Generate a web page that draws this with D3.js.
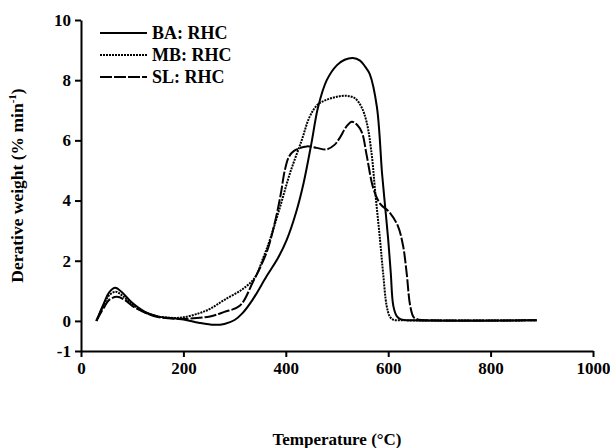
<!DOCTYPE html>
<html>
<head>
<meta charset="utf-8">
<script src="https://cdn.jsdelivr.net/npm/d3@7"></script>
<style>
  html,body{margin:0;padding:0;background:#fff;}
</style>
</head>
<body>
<div id="chart"></div>
<script>
const baT=[30,45,55,67,80,100,125,150,200,230,260,280,300,315,335,363,385,402,420,435,450,463,480,500,515,531,545,555,564,578,588,594,600,605,610,617,625,650,890];
const baV=[0,0.6,0.95,1.1,0.95,0.6,0.3,0.15,0.05,-0.06,-0.13,-0.1,0.03,0.25,0.7,1.5,2.1,2.7,3.6,4.6,5.9,7.1,8.0,8.5,8.68,8.74,8.65,8.45,8.2,7.1,4.9,3.8,2.7,1.6,0.5,0.15,0.05,0.02,0.02];

const mbT=[30,45,55,68,80,100,125,150,180,200,230,252,280,316,340,356,369,389,408,431,447,463,480,500,519,535,548,558,568,574,584,590,597,603,610,630,890];
const mbV=[0,0.55,0.85,0.97,0.85,0.55,0.28,0.15,0.1,0.12,0.25,0.4,0.7,1.06,1.45,2.1,2.7,3.8,4.9,6.0,6.8,7.2,7.35,7.45,7.48,7.4,7.1,6.6,5.5,4.4,2.7,1.6,0.5,0.15,0.04,0.02,0.02];

const slT=[30,45,55,70,85,100,125,150,200,252,280,310,336,363,379,390,398,406,416,441,460,480,495,506,518,529,540,549,558,571,584,603,619,629,636,643,650,660,680,890];
const slV=[0,0.45,0.7,0.8,0.7,0.5,0.28,0.13,0.07,0.15,0.3,0.5,1.3,2.3,3.3,4.2,5.0,5.45,5.65,5.8,5.75,5.7,5.85,6.1,6.45,6.62,6.5,6.25,5.5,4.4,3.9,3.6,3.15,2.5,1.6,0.5,0.12,0.04,0.02,0.02];

const seriesNames=["BA: RHC","MB: RHC","SL: RHC"];
const xTicks=[0,200,400,600,800,1000];
const yTicks=[-1,0,2,4,6,8,10];

const W=610,H=448;
const m={top:20,right:17,bottom:97,left:81};
const font="'Liberation Serif','Times New Roman',serif";
const svg=d3.select("#chart").append("svg").attr("width",W).attr("height",H)
  .attr("font-family",font).attr("font-weight","bold");
const x=d3.scaleLinear().domain([0,1000]).range([m.left,W-m.right]);
const y=d3.scaleLinear().domain([-1,10]).range([H-m.bottom,m.top]);

const series=[
  {name:seriesNames[0],t:baT,v:baV,dash:null},
  {name:seriesNames[1],t:mbT,v:mbV,dash:"2 1"},
  {name:seriesNames[2],t:slT,v:slV,dash:"12 2"}
];

const line=d3.line().x(d=>x(d[0])).y(d=>y(d[1])).curve(d3.curveCatmullRom.alpha(0.5));
series.forEach(s=>{
  svg.append("path").datum(s.t.map((t,i)=>[t,s.v[i]]))
    .attr("d",line).attr("fill","none").attr("stroke","#000")
    .attr("stroke-width",2).attr("stroke-dasharray",s.dash);
});

const fmt=d=>String(d);

svg.append("g").attr("transform",`translate(0,${y(-1)})`)
  .call(d3.axisBottom(x).tickValues(xTicks).tickFormat(fmt).tickSize(6).tickSizeOuter(0).tickPadding(5))
  .attr("font-family",font).attr("font-size",17)
  .call(s=>s.select(".domain").attr("stroke-width",2))
  .call(s=>s.selectAll("line").attr("stroke-width",2));

svg.append("g").attr("transform",`translate(${x(0)},0)`)
  .call(d3.axisLeft(y).tickValues(yTicks).tickFormat(fmt).tickSize(6).tickSizeOuter(0).tickPadding(4))
  .attr("font-family",font).attr("font-size",17)
  .call(s=>s.select(".domain").attr("stroke-width",2))
  .call(s=>s.selectAll("line").attr("stroke-width",2));

// axis titles
svg.append("text").attr("x",(x(0)+x(1000))/2).attr("y",445)
  .attr("text-anchor","middle").attr("font-size",17).text("Temperature (°C)");

const yt=svg.append("text").attr("transform",`translate(23,${(y(-1)+y(10))/2}) rotate(-90)`)
  .attr("text-anchor","middle").attr("font-size",17.5);
yt.append("tspan").text("Derative weight (% min");
yt.append("tspan").attr("dy",-7).attr("font-size",11).text("-1");
yt.append("tspan").attr("dy",7).text(")");

// legend
const lg=svg.append("g").attr("transform","translate(100,33)");
series.forEach((s,i)=>{
  const r=lg.append("g").attr("transform",`translate(0,${i*22})`);
  r.append("line").attr("x1",0).attr("x2",47).attr("stroke","#000")
    .attr("stroke-width",2).attr("stroke-dasharray",s.dash);
  r.append("text").attr("x",52).attr("y",6).attr("font-size",18).text(s.name);
});
</script>
</body>
</html>
